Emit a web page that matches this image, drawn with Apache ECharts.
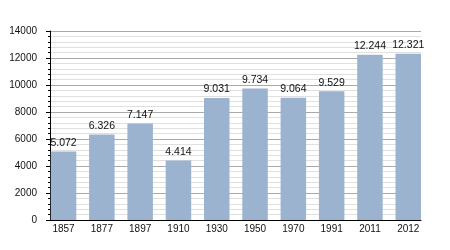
<!DOCTYPE html>
<html>
<head>
<meta charset="utf-8">
<script src="https://cdn.jsdelivr.net/npm/echarts@6/dist/echarts.min.js"></script>
<style>html,body{margin:0;padding:0;background:#fff;}#c{width:450px;height:250px;}</style>
</head>
<body>
<div id="c"></div>
<script>
var years = ['1857','1877','1897','1910','1930','1950','1970','1991','2011','2012'];
var population = [5072, 6326, 7147, 4414, 9031, 9734, 9064, 9529, 12244, 12321];
var yTicks = [0, 2000, 4000, 6000, 8000, 10000, 12000, 14000];

function fmt(v){ var s = String(v); return s.length > 3 ? s.slice(0, s.length-3) + '.' + s.slice(s.length-3) : s; }

var chart = echarts.init(document.getElementById('c'), null, {renderer:'canvas'});
var font = 'Liberation Sans, Arial, sans-serif';
chart.setOption({
  animation: false,
  backgroundColor: '#fff',
  grid: [
    {left: 50, right: 29, top: 31, bottom: 30},
    {left: 44.4, width: 383, top: 31, bottom: 30}
  ],
  xAxis: [
    {type:'category', gridIndex:0, data: years, axisLine:{show:true, lineStyle:{color:'#000', width:1}},
     axisTick:{show:false}, axisLabel:{show:false}, splitLine:{show:false}},
    {type:'category', gridIndex:1, data: years, axisLine:{show:false}, axisTick:{show:false},
     axisLabel:{show:true, color:'#111', fontSize:10, fontFamily:font, margin:4}}
  ],
  yAxis: [
    {type:'value', gridIndex:0, min: yTicks[0], max: yTicks[yTicks.length-1], interval: 2000,
     axisLine:{show:true, lineStyle:{color:'#000', width:1}},
     axisTick:{show:true, length:4, lineStyle:{color:'#000'}},
     minorTick:{show:true, splitNumber:5, length:2, lineStyle:{color:'#000'}},
     axisLabel:{color:'#111', fontSize:10, fontFamily:font, margin:13, formatter: function(v){ return String(v); }},
     splitLine:{show:true, lineStyle:{color:'#aaaaaa', width:1}},
     minorSplitLine:{show:true, lineStyle:{color:'#e0e0e0', width:1}}},
    {type:'value', gridIndex:1, min: yTicks[0], max: yTicks[yTicks.length-1], show:false}
  ],
  series: [
    {type:'bar', xAxisIndex:1, yAxisIndex:1, data: population, barWidth: 25.5,
     itemStyle:{color:'#9bb3cf'},
     label:{show:true, position:'top', distance:3, color:'#111', fontSize:10.5, fontFamily:font,
            formatter: function(p){ return fmt(p.value); }}}
  ]
});
</script>
</body>
</html>
